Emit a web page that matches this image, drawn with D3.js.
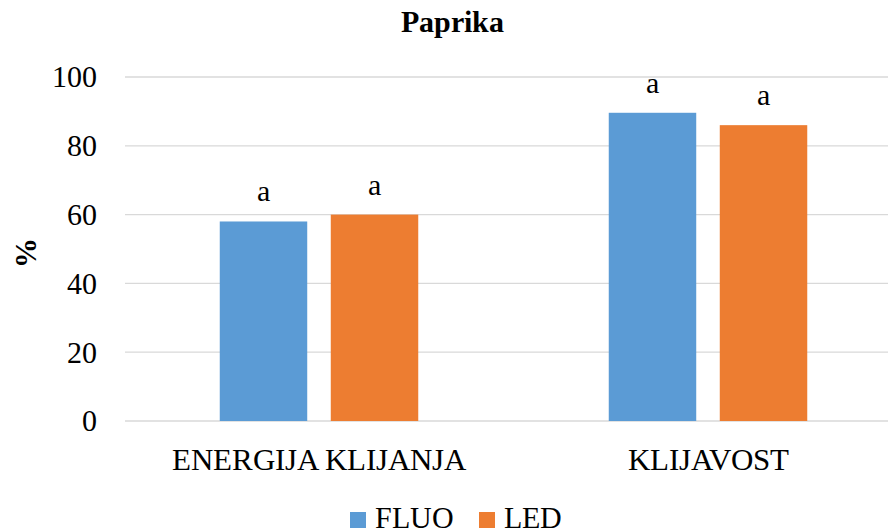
<!DOCTYPE html>
<html><head><meta charset="utf-8">
<script src="https://cdn.jsdelivr.net/npm/d3@7"></script>
<style>
@font-face { font-family: "ChartSerif"; src: local("Liberation Serif"), local("LiberationSerif"), local("Liberation Serif Regular"); font-weight: 400; }
@font-face { font-family: "ChartSerif"; src: local("Liberation Serif Bold"), local("LiberationSerif-Bold"); font-weight: 700; }
body { margin: 0; background: #fff; }
svg text { font-family: "ChartSerif", "Liberation Serif", serif; fill: #000; }
</style>
</head><body>
<script>
const categories = ["ENERGIJA KLIJANJA", "KLIJAVOST"];
const seriesNames = ["FLUO", "LED"];
const fluo = [58, 89.6];
const led = [60, 86];
const letters = [["a", "a"], ["a", "a"]];
const yTicks = [0, 20, 40, 60, 80, 100];
const colors = ["#5B9BD5", "#ED7D31"];

const W = 888, H = 532;
const svg = d3.select("body").append("svg").attr("width", W).attr("height", H).style("display", "block");
const x0 = d3.scaleBand().domain(categories).range([124.5, 902.5]).paddingInner(0).paddingOuter(0);
const x1 = d3.scaleBand().domain(seriesNames).range([0, x0.bandwidth()]).paddingInner(0.212).paddingOuter(0.858);
const y = d3.scaleLinear().domain([0, 100]).range([421, 77]);

// gridlines
svg.append("g").selectAll("line").data(yTicks).join("line")
  .attr("x1", 125).attr("x2", W).attr("y1", d => y(d)).attr("y2", d => y(d))
  .attr("stroke", "#d9d9d9").attr("stroke-width", 1.3);

// y axis
const yAxis = svg.append("g").attr("transform", "translate(125,0)")
  .call(d3.axisLeft(y).tickValues(yTicks).tickSize(0).tickPadding(28));
yAxis.attr("font-family", null).attr("font-size", null);
yAxis.select(".domain").remove();
yAxis.selectAll("text").attr("dy", "0.33em").style("font-size", "30px");

// bars and letters
const data = categories.map((c, i) => ({cat: c, vals: [fluo[i], led[i]]}));
const g = svg.append("g").selectAll("g").data(data).join("g")
  .attr("transform", d => `translate(${x0(d.cat)},0)`);
g.selectAll("rect").data(d => d.vals.map((v, j) => ({s: seriesNames[j], v, j}))).join("rect")
  .attr("x", d => x1(d.s)).attr("width", x1.bandwidth())
  .attr("y", d => y(d.v)).attr("height", d => y(0) - y(d.v))
  .attr("fill", d => colors[d.j]);
g.selectAll("text.lbl").data((d, i) => d.vals.map((v, j) => ({s: seriesNames[j], v, t: letters[i][j]}))).join("text")
  .attr("class", "lbl")
  .attr("x", d => x1(d.s) + x1.bandwidth() / 2).attr("y", d => y(d.v) - 20)
  .attr("text-anchor", "middle").style("font-size", "30px").text(d => d.t);

// x axis labels
const xAxis = svg.append("g").attr("transform", "translate(0,421)")
  .call(d3.axisBottom(x0).tickSize(0).tickPadding(0));
xAxis.attr("font-family", null).attr("font-size", null);
xAxis.select(".domain").remove();
xAxis.selectAll("text").attr("y", 49).attr("dy", 0).style("font-size", "31px");

// title
svg.append("text").attr("x", 452).attr("y", 32).attr("text-anchor", "middle")
  .style("font-size", "30px").style("font-weight", "bold").text("Paprika");
// y title
svg.append("text").attr("transform", "translate(36,253) rotate(-90)").attr("text-anchor", "middle")
  .style("font-size", "30px").style("font-weight", "bold").text("%");

// legend
const legX = [350, 479];
seriesNames.forEach((s, i) => {
  svg.append("rect").attr("x", legX[i]).attr("y", 512).attr("width", 16).attr("height", 16).attr("fill", colors[i]);
  svg.append("text").attr("x", legX[i] + 25).attr("y", 528).style("font-size", "30px").text(s);
});
</script>
</body></html>
